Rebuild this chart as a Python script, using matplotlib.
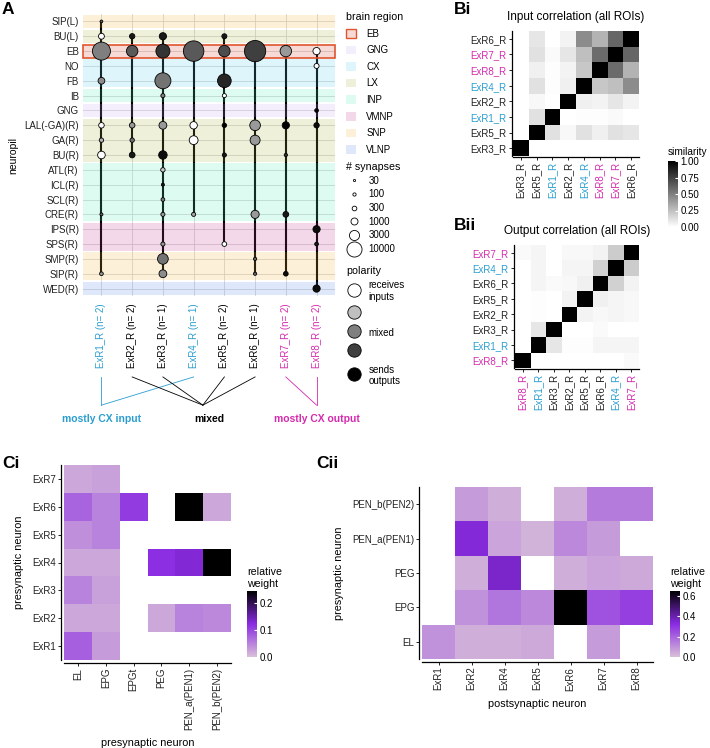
import numpy as np
import matplotlib.pyplot as plt
import matplotlib as mpl
import matplotlib.transforms as mtransforms
from matplotlib.patches import Patch, Rectangle
from matplotlib.lines import Line2D
from matplotlib.colors import LinearSegmentedColormap, to_rgba

mpl.rcParams['font.family'] = ['Liberation Sans', 'DejaVu Sans']
mpl.rcParams['font.size'] = 7

BLUE = '#2A9ED0'
MAGENTA = '#D52AAE'
TXT = '#222222'

# ---------------- panel A data ----------------
neurons = ['ExR1', 'ExR2', 'ExR3', 'ExR4', 'ExR5', 'ExR6', 'ExR7', 'ExR8']
neuron_n = [2, 2, 1, 1, 2, 1, 2, 2]
neuron_color = [BLUE, 'black', 'black', BLUE, 'black', 'black', MAGENTA, MAGENTA]

neuropils = ['SIP(L)', 'BU(L)', 'EB', 'NO', 'FB', 'IB', 'GNG', 'LAL(-GA)(R)', 'GA(R)',
             'BU(R)', 'ATL(R)', 'ICL(R)', 'SCL(R)', 'CRE(R)', 'IPS(R)', 'SPS(R)', 'SMP(R)',
             'SIP(R)', 'WED(R)']
neuropil_region = ['SNP', 'LX', 'EB', 'CX', 'CX', 'INP', 'GNG', 'LX', 'LX', 'LX', 'INP', 'INP',
                   'INP', 'INP', 'VMNP', 'VMNP', 'SNP', 'SNP', 'VLNP']
region_names = ['EB', 'GNG', 'CX', 'LX', 'INP', 'VMNP', 'SNP', 'VLNP']
region_colors = ['#D7462D', '#C8A5EB', '#5ACDEB', '#AAB446', '#55EBB9', '#BE3C8C', '#F5B441', '#5F8CE6']

dot_neuron = (['ExR1'] * 9 + ['ExR2'] * 5 + ['ExR3'] * 13 + ['ExR4'] * 4 + ['ExR5'] * 7
              + ['ExR6'] * 6 + ['ExR7'] * 5 + ['ExR8'] * 7)
dot_neuropil = [
    'SIP(L)', 'BU(L)', 'EB', 'FB', 'LAL(-GA)(R)', 'GA(R)', 'BU(R)', 'CRE(R)', 'SIP(R)',
    'BU(L)', 'EB', 'LAL(-GA)(R)', 'GA(R)', 'BU(R)',
    'BU(L)', 'EB', 'FB', 'IB', 'LAL(-GA)(R)', 'BU(R)', 'ATL(R)', 'ICL(R)', 'SCL(R)', 'CRE(R)',
    'SPS(R)', 'SMP(R)', 'SIP(R)',
    'EB', 'LAL(-GA)(R)', 'GA(R)', 'CRE(R)',
    'BU(L)', 'EB', 'FB', 'IB', 'LAL(-GA)(R)', 'BU(R)', 'SPS(R)',
    'EB', 'LAL(-GA)(R)', 'GA(R)', 'CRE(R)', 'SMP(R)', 'SIP(R)',
    'EB', 'LAL(-GA)(R)', 'BU(R)', 'CRE(R)', 'SIP(R)',
    'EB', 'NO', 'GNG', 'LAL(-GA)(R)', 'IPS(R)', 'SPS(R)', 'WED(R)']
dot_synapses = [
    60, 600, 17000, 900, 500, 250, 1300, 80, 150,
    450, 4400, 500, 250, 550,
    1100, 8000, 12000, 200, 1400, 1800, 250, 80, 150, 200, 200, 3600, 1400,
    25000, 1200, 2000, 200,
    370, 4400, 7400, 200, 250, 200, 300,
    28000, 3500, 2900, 1600, 100, 100,
    4400, 1100, 100, 550, 300,
    1100, 370, 150, 450, 1100, 150, 1100]
dot_polarity = [
    0.6, 0.0, 0.5, 0.45, 0.0, 0.3, 0.0, 0.6, 0.4,
    0.9, 0.65, 0.4, 0.55, 0.9,
    0.9, 0.8, 0.55, 0.5, 0.4, 0.95, 0.2, 0.9, 0.5, 0.4, 0.4, 0.55, 0.45,
    0.65, 0.0, 0.0, 0.35,
    0.9, 0.7, 0.85, 0.0, 1.0, 0.9, 0.0,
    0.75, 0.4, 0.4, 0.4, 0.6, 0.6,
    0.4, 1.0, 0.8, 0.9, 0.95,
    0.0, 0.0, 1.0, 0.95, 0.95, 0.9, 0.95]

size_breaks = [30, 100, 300, 1000, 3000, 10000]
polarity_breaks = [0.0, 0.25, 0.5, 0.75, 1.0]
polarity_labels = ['receives\ninputs', '', 'mixed', '', 'sends\noutputs']

group_names = ['mostly CX input', 'mixed', 'mostly CX output']
group_colors = [BLUE, 'black', MAGENTA]
group_members = [['ExR1', 'ExR4'], ['ExR2', 'ExR3', 'ExR5', 'ExR6'], ['ExR7', 'ExR8']]
group_anchor = [1.0, 4.3, 8.0]

# ---------------- panel B data ----------------
bi_order = ['ExR3', 'ExR5', 'ExR1', 'ExR2', 'ExR4', 'ExR8', 'ExR7', 'ExR6']
bi_sim = [
    [1.00, 0.00, 0.00, 0.00, 0.00, 0.00, 0.00, 0.00],
    [0.00, 1.00, 0.12, 0.03, 0.12, 0.06, 0.12, 0.10],
    [0.00, 0.12, 1.00, 0.00, 0.01, 0.01, 0.02, 0.00],
    [0.00, 0.03, 0.00, 1.00, 0.06, 0.05, 0.10, 0.05],
    [0.00, 0.12, 0.01, 0.06, 1.00, 0.22, 0.25, 0.45],
    [0.00, 0.06, 0.01, 0.05, 0.22, 1.00, 0.58, 0.30],
    [0.00, 0.12, 0.02, 0.10, 0.25, 0.58, 1.00, 0.60],
    [0.00, 0.10, 0.00, 0.05, 0.45, 0.30, 0.60, 1.00]]
bii_order = ['ExR8', 'ExR1', 'ExR3', 'ExR2', 'ExR5', 'ExR6', 'ExR4', 'ExR7']
bii_sim = [
    [1.00, 0.00, 0.00, 0.00, 0.00, 0.00, 0.00, 0.02],
    [0.00, 1.00, 0.10, 0.01, 0.01, 0.04, 0.04, 0.04],
    [0.00, 0.10, 1.00, 0.00, 0.00, 0.02, 0.00, 0.00],
    [0.00, 0.01, 0.00, 1.00, 0.05, 0.03, 0.04, 0.03],
    [0.00, 0.01, 0.00, 0.05, 1.00, 0.06, 0.04, 0.03],
    [0.00, 0.04, 0.02, 0.03, 0.06, 1.00, 0.18, 0.05],
    [0.00, 0.04, 0.00, 0.04, 0.04, 0.18, 1.00, 0.20],
    [0.02, 0.04, 0.00, 0.03, 0.03, 0.05, 0.20, 1.00]]

# ---------------- panel C data ----------------
ci_rows = ['ExR1', 'ExR2', 'ExR3', 'ExR4', 'ExR5', 'ExR6', 'ExR7']
ci_cols = ['EL', 'EPG', 'EPGt', 'PEG', 'PEN_a(PEN1)', 'PEN_b(PEN2)']
nan = np.nan
ci_weight = [
    [0.080, 0.030, nan, nan, nan, nan],
    [0.020, 0.020, nan, 0.020, 0.050, 0.045],
    [0.050, 0.025, nan, nan, nan, nan],
    [0.020, 0.020, nan, 0.120, 0.130, 0.245],
    [0.040, 0.050, nan, nan, nan, nan],
    [0.075, 0.050, 0.110, nan, 0.245, 0.020],
    [0.020, 0.025, nan, nan, nan, nan]]
cii_rows = ['EL', 'EPG', 'PEG', 'PEN_a(PEN1)', 'PEN_b(PEN2)']
cii_cols = ['ExR1', 'ExR2', 'ExR4', 'ExR5', 'ExR6', 'ExR7', 'ExR8']
cii_weight = [
    [0.10, 0.04, 0.04, 0.05, nan, 0.08, nan],
    [nan, 0.10, 0.16, 0.12, 0.65, 0.24, 0.28],
    [nan, 0.04, 0.36, nan, 0.04, 0.06, 0.05],
    [nan, 0.34, 0.06, 0.03, 0.12, 0.08, nan],
    [nan, 0.08, 0.04, nan, 0.04, 0.15, 0.15]]

# ---------------- figure ----------------
W, H = 710, 748
fig = plt.figure(figsize=(W / 100, H / 100), dpi=100)


def add_ax(l, t, r, b):
    return fig.add_axes([l / W, 1 - b / H, (r - l) / W, (b - t) / H])


def size_pt(n):
    return 0.70 * n ** (1 / 3) * 0.72


polar_cmap = LinearSegmentedColormap.from_list('polar', ['white', 'black'])
grey_cmap = LinearSegmentedColormap.from_list('sim', ['white', 'black'])
purple_cmap = LinearSegmentedColormap.from_list('rw', [(0, '#D8BFD8'), (0.5, '#8A2BE2'), (1, 'black')])
name_color = dict(zip(neurons, neuron_color))

# ---- Panel A
axA = add_ax(83, 14, 335, 296)
nrow, ncol = len(neuropils), len(neurons)
row_of = {p: i + 1 for i, p in enumerate(neuropils)}
col_of = {n: i + 1 for i, n in enumerate(neurons)}
axA.set_xlim(0.4, ncol + 0.6)
axA.set_ylim(nrow + 0.5, 0.5)

for i in range(1, nrow + 1):
    axA.axhline(i, color='#d4d4d4', lw=0.6, zorder=0)
for j in range(1, ncol + 1):
    axA.axvline(j, color='#d4d4d4', lw=0.6, zorder=0)

for nm in neurons:
    rows = [row_of[p] for n, p in zip(dot_neuron, dot_neuropil) if n == nm]
    axA.plot([col_of[nm]] * 2, [min(rows), max(rows)], color='black', lw=1.5,
             zorder=1, solid_capstyle='butt')

# region bands (contiguous runs)
reg_col = dict(zip(region_names, region_colors))
start = 0
for i in range(1, nrow + 1):
    if i == nrow or neuropil_region[i] != neuropil_region[start]:
        reg = neuropil_region[start]
        is_eb = reg == 'EB'
        axA.add_patch(Rectangle((0.4, start + 1 - 0.5 + 0.06), ncol + 0.2, i - start - 0.12,
                                facecolor=to_rgba(reg_col[reg], 0.2),
                                edgecolor='#E0552F' if is_eb else 'none',
                                lw=1.2, zorder=2, clip_on=False))
        start = i

axA.scatter([col_of[n] for n in dot_neuron], [row_of[p] for p in dot_neuropil],
            s=[size_pt(v) ** 2 for v in dot_synapses],
            c=[polar_cmap(p) for p in dot_polarity],
            edgecolors='black', linewidths=0.6, zorder=3)

for s in axA.spines.values():
    s.set_visible(False)
axA.set_yticks(range(1, nrow + 1))
axA.set_yticklabels(neuropils, fontsize=7, color=TXT)
axA.set_xticks(range(1, ncol + 1))
axA.set_xticklabels([f'{n}_R (n= {c})' for n, c in zip(neurons, neuron_n)],
                    rotation=90, fontsize=7)
for lab, c in zip(axA.get_xticklabels(), neuron_color):
    lab.set_color(c)
axA.tick_params(length=0, pad=3)
axA.tick_params(axis='x', pad=5)
axA.set_ylabel('neuropil', fontsize=7.5, labelpad=4)

# grouping brackets below the column labels
trans = mtransforms.blended_transform_factory(axA.transData, axA.transAxes)
for name, col, members, anchor in zip(group_names, group_colors, group_members, group_anchor):
    for m in members:
        axA.plot([col_of[m], anchor], [-0.287, -0.387], color=col, lw=0.6,
                 transform=trans, clip_on=False)
    axA.text(anchor + (0.2 if name == 'mixed' else 0), -0.436, name, color=col,
             fontsize=7.5, weight='bold', ha='center', va='center', transform=trans)

# legends
region_handles = [Patch(facecolor=to_rgba(c, 0.2),
                        edgecolor='#E0552F' if r == 'EB' else 'none', linewidth=1.0)
                  for r, c in zip(region_names, region_colors)]
leg_kw = dict(loc='upper left', frameon=False, fontsize=7.0, title_fontsize=7.7,
              alignment='left', borderpad=0, borderaxespad=0)
fig.legend(region_handles, region_names, title='brain region',
           bbox_to_anchor=(346 / W, 1 - 12 / H), handlelength=1.0, handleheight=1.0,
           handletextpad=1.1, labelspacing=0.68, **leg_kw)
size_handles = [Line2D([], [], ls='', marker='o', markersize=size_pt(v), mfc='white',
                       mec='black', mew=0.6) for v in size_breaks]
fig.legend(size_handles, [str(v) for v in size_breaks], title='# synapses',
           bbox_to_anchor=(346 / W, 1 - 162 / H), handlelength=1.6,
           handletextpad=0.7, labelspacing=0.38, **leg_kw)
pol_handles = [Line2D([], [], ls='', marker='o', markersize=9.6, mfc=polar_cmap(p),
                      mec='black', mew=0.6) for p in polarity_breaks]
fig.legend(pol_handles, polarity_labels, title='polarity',
           bbox_to_anchor=(346 / W, 1 - 266 / H), handlelength=1.6, handleheight=2.0,
           handletextpad=0.7, labelspacing=0.45, **leg_kw)


# ---- Panels Bi / Bii
def corr_panel(box, order, sim, title):
    ax = add_ax(*box)
    for side in ['top', 'right']:
        ax.spines[side].set_visible(False)
    for side in ['left', 'bottom']:
        ax.spines[side].set_linewidth(0.9)
        ax.spines[side].set_position(('outward', 1))
    n = len(order)
    edges = np.arange(n + 1) - 0.5
    mesh = ax.pcolormesh(edges, edges, np.array(sim), cmap=grey_cmap, vmin=0, vmax=1)
    ax.set_xlim(-0.5, n - 0.5)
    ax.set_ylim(-0.5, n - 0.5)
    ax.set_xticks(range(n))
    ax.set_yticks(range(n))
    ax.set_xticklabels([o + '_R' for o in order], rotation=90, fontsize=7)
    ax.set_yticklabels([o + '_R' for o in order], fontsize=7)
    for lab, o in zip(ax.get_xticklabels(), order):
        lab.set_color(name_color[o] if name_color[o] != 'black' else TXT)
    for lab, o in zip(ax.get_yticklabels(), order):
        lab.set_color(name_color[o] if name_color[o] != 'black' else TXT)
    ax.tick_params(length=2, width=0.6, pad=1.5)
    ax.set_title(title, fontsize=8.5, pad=8)
    return mesh


mesh_b = corr_panel((513, 31, 639, 156), bi_order, bi_sim, 'Input correlation (all ROIs)')
corr_panel((515, 245, 639, 368), bii_order, bii_sim, 'Output correlation (all ROIs)')

cax = add_ax(668, 161, 678, 227)
cb = fig.colorbar(mesh_b, cax=cax, ticks=[0, 0.25, 0.5, 0.75, 1.0])
cb.ax.set_yticklabels(['0.00', '0.25', '0.50', '0.75', '1.00'])
cb.outline.set_visible(False)
cax.tick_params(length=2, color='white', direction='in', labelsize=7, pad=2)
cax.set_title('similarity', loc='left', fontsize=7.3, pad=4)


# ---- Panels Ci / Cii
def weight_panel(box, rows, cols, weights, vmax, xlabel, ylabel):
    ax = add_ax(*box)
    for side in ['top', 'right']:
        ax.spines[side].set_visible(False)
    for side in ['left', 'bottom']:
        ax.spines[side].set_linewidth(0.9)
        ax.spines[side].set_position(('outward', 2))
    data = np.ma.masked_invalid(np.array(weights, dtype=float))
    mesh = ax.pcolormesh(np.arange(len(cols) + 1) - 0.5, np.arange(len(rows) + 1) - 0.5,
                         data, cmap=purple_cmap, vmin=0, vmax=vmax)
    ax.set_xlim(-0.5, len(cols) - 0.5)
    ax.set_ylim(-0.5, len(rows) - 0.5)
    ax.set_xticks(range(len(cols)))
    ax.set_yticks(range(len(rows)))
    ax.set_xticklabels(cols, rotation=90, fontsize=7, color=TXT)
    ax.set_yticklabels(rows, fontsize=7, color=TXT)
    ax.tick_params(length=2, width=0.6, pad=1.5)
    ax.set_xlabel(xlabel, fontsize=7.8, labelpad=6)
    ax.set_ylabel(ylabel, fontsize=7.8, labelpad=6)
    return mesh


def weight_bar(mesh, box, ticks):
    cax = add_ax(*box)
    cb = fig.colorbar(mesh, cax=cax, ticks=ticks)
    cb.ax.set_yticklabels([f'{t:.1f}' for t in ticks])
    cb.outline.set_visible(False)
    cax.tick_params(length=2, color='white', direction='in', labelsize=7, pad=2)
    cax.set_title('relative\nweight', loc='left', fontsize=7.7, pad=3)


mesh_ci = weight_panel((64, 465, 231, 660), ci_rows, ci_cols, ci_weight, 0.245,
                       'presynaptic neuron', 'presynaptic neuron')
weight_bar(mesh_ci, (247, 591, 257, 657), [0.0, 0.1, 0.2])
mesh_cii = weight_panel((422, 487, 653, 659), cii_rows, cii_cols, cii_weight, 0.65,
                        'postsynaptic neuron', 'presynaptic neuron')
weight_bar(mesh_cii, (670, 591, 680, 657), [0.0, 0.2, 0.4, 0.6])

# panel letters
for lab, x, y in [('A', 2, 10), ('Bi', 454, 10), ('Bii', 454, 226), ('Ci', 2, 463), ('Cii', 316, 463)]:
    fig.text(x / W, 1 - y / H, lab, fontsize=12.5, weight='bold', ha='left', va='center')

fig.savefig('out.png', dpi=100)
